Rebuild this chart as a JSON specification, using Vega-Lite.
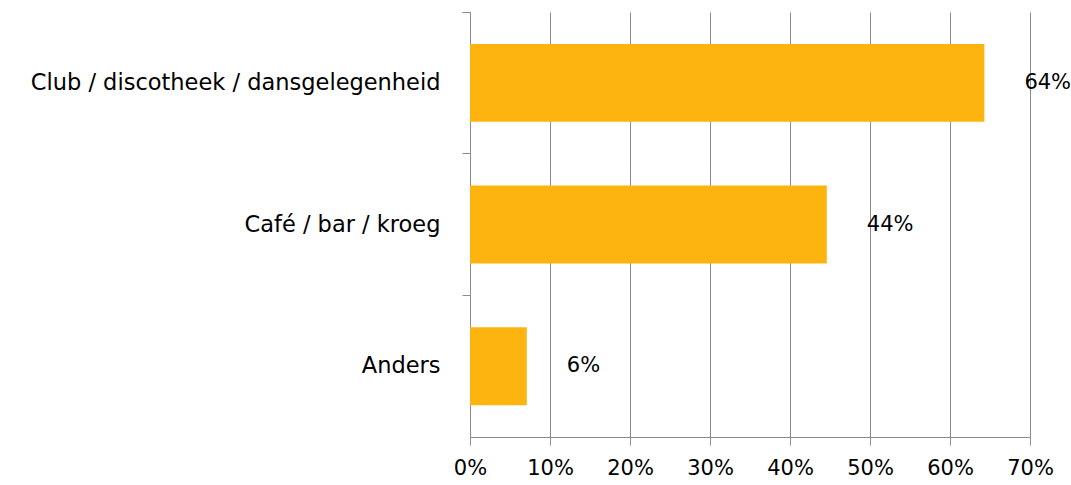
{
  "$schema": "https://vega.github.io/schema/vega-lite/v6.json",
  "autosize": {"type": "none"},
  "padding": {"left": 470, "top": 12, "right": 41, "bottom": 48},
  "width": 560,
  "height": 425,
  "background": "white",
  "data": {"values": [
    {"categorie": "Club / discotheek / dansgelegenheid", "waarde": 64.3, "label": "64%"},
    {"categorie": "Café / bar / kroeg", "waarde": 44.6, "label": "44%"},
    {"categorie": "Anders", "waarde": 7.1, "label": "6%"}
  ]},
  "config": {
    "view": {"stroke": null},
    "font": "DejaVu Sans",
    "axis": {"labelFont": "DejaVu Sans", "labelColor": "#000000", "domainColor": "#8c8c8c", "tickColor": "#8c8c8c", "gridColor": "#8c8c8c", "gridOpacity": 1}
  },
  "encoding": {
    "y": {
      "field": "categorie", "type": "nominal", "sort": null, "title": null,
      "scale": {"paddingInner": 0, "paddingOuter": 0},
      "axis": {"bandPosition": 0, "tickExtra": true, "tickSize": 8, "labelPadding": 22, "labelFontSize": 22.5, "grid": false, "domainWidth": 1, "labelLimit": 600}
    }
  },
  "layer": [
    {
      "mark": {"type": "bar", "color": "#FDB40F", "height": {"band": 0.55}},
      "encoding": {
        "x": {
          "field": "waarde", "type": "quantitative", "title": null,
          "scale": {"domain": [0, 70], "nice": false},
          "axis": {"values": [0, 10, 20, 30, 40, 50, 60, 70], "labelExpr": "datum.value + '%'", "labelFontSize": 21, "grid": true, "tickSize": 8, "labelPadding": 12, "labelFlush": false, "domainColor": "#8c8c8c"}
        }
      }
    },
    {
      "mark": {"type": "text", "align": "left", "baseline": "middle", "dx": 40, "fontSize": 21, "font": "DejaVu Sans", "color": "#000000"},
      "encoding": {
        "x": {"field": "waarde", "type": "quantitative"},
        "text": {"field": "label"}
      }
    }
  ]
}
